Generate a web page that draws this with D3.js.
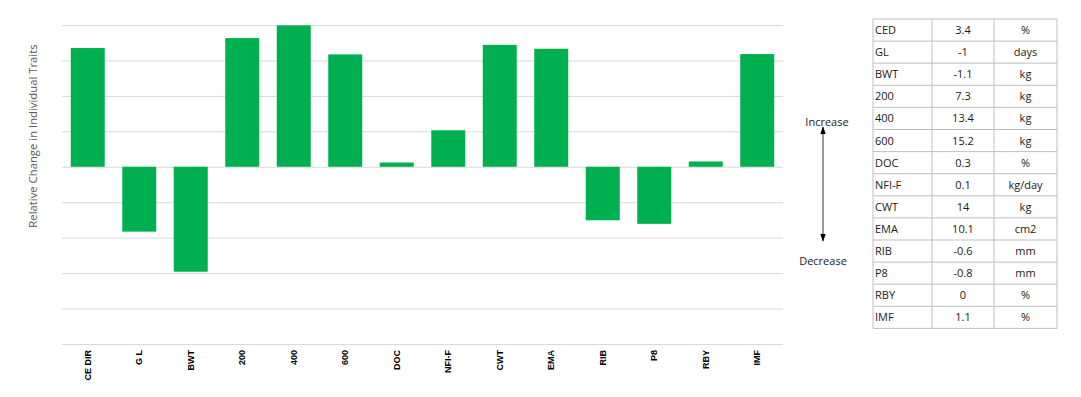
<!DOCTYPE html>
<html>
<head>
<meta charset="utf-8">
<script src="https://cdn.jsdelivr.net/npm/d3@7"></script>
<style>
  body { margin: 0; background: #fff; }
  svg text { font-family: "Open Sans", "Liberation Sans", sans-serif; }
</style>
</head>
<body>
<div id="hostBar"></div>
<script>
// chart data, relative change per trait
const categories = ["CE DIR", "G L", "BWT", "200", "400", "600", "DOC", "NFI-F", "CWT", "EMA", "RIB", "P8", "RBY", "IMF"];
const values = [3.35, -1.83, -2.96, 3.63, 3.99, 3.17, 0.12, 1.03, 3.44, 3.33, -1.51, -1.61, 0.15, 3.18];
const yTicks = [-5, -4, -3, -2, -1, 0, 1, 2, 3, 4];

// table on the right
const traits = ["CED", "GL", "BWT", "200", "400", "600", "DOC", "NFI-F", "CWT", "EMA", "RIB", "P8", "RBY", "IMF"];
const traitValues = ["3.4", "-1", "-1.1", "7.3", "13.4", "15.2", "0.3", "0.1", "14", "10.1", "-0.6", "-0.8", "0", "1.1"];
const traitUnits = ["%", "days", "kg", "kg", "kg", "kg", "%", "kg/day", "kg", "cm2", "mm", "mm", "%", "%"];

const width = 1081;
const height = 397;
const plot = { left: 62, right: 783, top: 25, bottom: 344 };

const svg = d3.select("#hostBar")
  .append("svg")
  .attr("width", width)
  .attr("height", height);

// scales
const x = d3.scaleBand()
  .range([plot.left, plot.right])
  .domain(categories)
  .paddingInner(0.34)
  .paddingOuter(0.17);

const y = d3.scaleLinear()
  .domain([-5, 4])
  .range([plot.bottom, plot.top]);

// gridlines
svg.append("g")
  .attr("transform", "translate(" + plot.left + ",0)")
  .call(d3.axisLeft(y).tickValues(yTicks).tickSize(-(plot.right - plot.left)).tickFormat(""))
  .call(g => g.select(".domain").remove())
  .selectAll("line")
  .attr("stroke", "#d9d9d9")
  .attr("stroke-width", 1);

// bars
svg.selectAll("bars")
  .data(values)
  .enter()
  .append("rect")
  .attr("x", (d, i) => x(categories[i]))
  .attr("y", d => y(Math.max(0, d)))
  .attr("width", x.bandwidth())
  .attr("height", d => Math.abs(y(d) - y(0)))
  .attr("fill", "#00b050");

// x labels, rotated, hung below the bottom gridline
svg.append("g")
  .attr("transform", "translate(0," + plot.bottom + ")")
  .call(d3.axisBottom(x).tickSize(0))
  .call(g => g.select(".domain").remove())
  .selectAll("text")
  .attr("transform", "rotate(-90)")
  .attr("x", -6)
  .attr("y", 0)
  .attr("dy", "0.34em")
  .style("text-anchor", "end")
  .style("font-family", "'Liberation Sans', sans-serif")
  .style("font-weight", "bold")
  .style("font-size", "9px")
  .style("fill", "#000");

// y axis title
svg.append("text")
  .attr("transform", "translate(37,136)rotate(-90)")
  .attr("text-anchor", "middle")
  .style("font-size", "11.3px")
  .style("fill", "#595959")
  .text("Relative Change in Individual Traits");

// increase / decrease arrow
const defs = svg.append("defs");
defs.append("marker")
  .attr("id", "head")
  .attr("viewBox", "0 0 10 10")
  .attr("refX", 9).attr("refY", 5)
  .attr("markerWidth", 8).attr("markerHeight", 8)
  .attr("markerUnits", "userSpaceOnUse")
  .attr("orient", "auto-start-reverse")
  .append("path")
  .attr("d", "M0,1.5L10,5L0,8.5Z")
  .attr("fill", "#000");

svg.append("line")
  .attr("x1", 823).attr("x2", 823)
  .attr("y1", 127).attr("y2", 241)
  .attr("stroke", "#333")
  .attr("stroke-width", 1)
  .attr("marker-start", "url(#head)")
  .attr("marker-end", "url(#head)");

svg.append("text")
  .attr("x", 827).attr("y", 126)
  .attr("text-anchor", "middle")
  .style("font-size", "11px")
  .style("fill", "#222")
  .text("Increase");

svg.append("text")
  .attr("x", 823).attr("y", 265)
  .attr("text-anchor", "middle")
  .style("font-size", "11px")
  .style("fill", "#222")
  .text("Decrease");

// table
const tbl = { top: 19, rowH: 22.1, cols: [873, 932, 994, 1057] };
const rowY = d3.scaleBand()
  .domain(traits)
  .range([tbl.top, tbl.top + tbl.rowH * traits.length]);

const table = svg.append("g");

table.selectAll("rowline")
  .data(d3.range(traits.length + 1))
  .enter()
  .append("line")
  .attr("x1", tbl.cols[0]).attr("x2", tbl.cols[3])
  .attr("y1", i => tbl.top + i * rowY.bandwidth())
  .attr("y2", i => tbl.top + i * rowY.bandwidth())
  .attr("stroke", "#bfbfbf");

table.selectAll("colline")
  .data(tbl.cols)
  .enter()
  .append("line")
  .attr("x1", d => d).attr("x2", d => d)
  .attr("y1", tbl.top)
  .attr("y2", tbl.top + tbl.rowH * traits.length)
  .attr("stroke", "#bfbfbf");

const cellText = (arr, xPos, anchor) => {
  table.selectAll(null)
    .data(arr)
    .enter()
    .append("text")
    .attr("x", xPos)
    .attr("y", (d, i) => rowY(traits[i]) + rowY.bandwidth() / 2)
    .attr("dy", "0.36em")
    .attr("text-anchor", anchor)
    .style("font-size", "11px")
    .style("fill", "#1a1a1a")
    .text(d => d);
};

cellText(traits, tbl.cols[0] + 2, "start");
cellText(traitValues, (tbl.cols[1] + tbl.cols[2]) / 2, "middle");
cellText(traitUnits, (tbl.cols[2] + tbl.cols[3]) / 2, "middle");
</script>
</body>
</html>
